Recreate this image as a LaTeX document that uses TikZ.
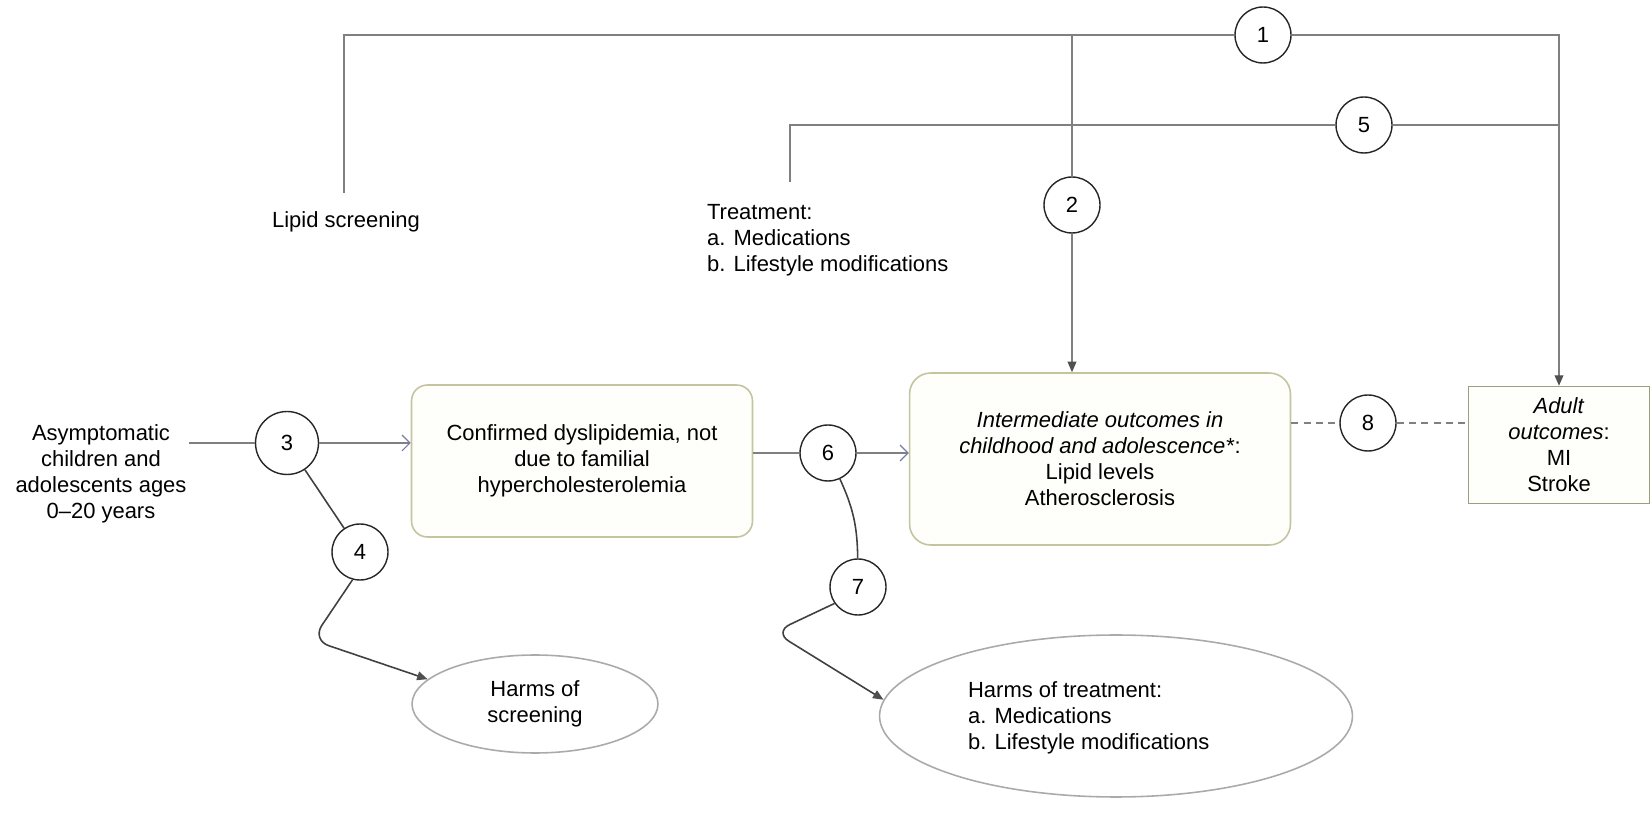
\documentclass[tikz,border=0pt]{standalone}
\usetikzlibrary{arrows.meta, positioning, shapes.geometric}
\usepackage{xcolor}
\usepackage{fontspec}
\setmainfont{Liberation Sans}
\definecolor{linegray}{RGB}{128,128,128}
\definecolor{boxedge}{RGB}{196,196,160}
\definecolor{boxfill}{RGB}{254,254,251}
\definecolor{elledge}{RGB}{170,170,170}
\definecolor{openblue}{RGB}{120,124,165}
\definecolor{tipgray}{RGB}{80,80,80}

\begin{document}
\begin{tikzpicture}[x=0.02cm, y=-0.02cm, font=\fontsize{12.5}{14.8}\selectfont]
    \tikzstyle{num}=[circle, draw=black!85, line width=0.8pt, minimum size=1.12cm, inner sep=0pt, fill=white]
    \tikzstyle{txt}=[inner sep=1pt]
    \tikzstyle{box}=[rectangle, rounded corners=9pt, draw=boxedge, fill=boxfill, line width=0.9pt, align=center, minimum width=6.82cm, minimum height=3.04cm]
    \tikzstyle{adultbox}=[rectangle, draw=boxedge!80!black, fill=boxfill, line width=0.8pt, align=center, minimum width=3.62cm, minimum height=2.34cm]
    \tikzstyle{harmell}=[ellipse, draw=elledge, fill=white, line width=0.9pt, align=center, minimum width=4.92cm, minimum height=1.96cm, inner sep=0pt]
    \tikzstyle{link}=[draw=linegray, line width=0.8pt]
    \tikzstyle{down}=[link, -{Triangle[length=6pt, width=5pt, color=tipgray]}]
    \tikzstyle{open}=[draw=linegray, line width=0.7pt, -{Straight Barb[length=4.5pt, width=9pt, color=openblue]}]
    \tikzstyle{harm}=[draw=black!75, line width=0.9pt, rounded corners=10pt, -{Triangle[length=6pt, width=5pt, color=tipgray]}]

    \useasboundingbox (0,0) rectangle (1650,830);

    % Draw the text nodes
    \node[txt] (lipid) at (346,222) {Lipid screening};
    \node[txt, anchor=west, align=left] (treat) at (705,240) {Treatment:\\a. Medications\\b. Lifestyle modifications};
    \node[txt, align=center] (asym) at (101,474) {Asymptomatic\\children and\\adolescents ages\\0--20 years};

    % Draw the boxes and ellipses
    \node[box] (confirmed) at (582,461) {Confirmed dyslipidemia, not\\due to familial\\hypercholesterolemia};
    \node[box, rounded corners=12pt, minimum width=7.62cm, minimum height=3.44cm] (inter) at (1100,459)
        {\textit{Intermediate outcomes in}\\\textit{childhood and adolescence*}:\\Lipid levels\\Atherosclerosis};
    \node[adultbox] (adult) at (1559,445) {\textit{Adult}\\\textit{outcomes}:\\MI\\Stroke};
    \node[harmell] (screen) at (535,704) {Harms of\\screening};
    \node[harmell, minimum width=9.46cm, minimum height=3.24cm] (harmtreat) at (1116,716) {};
    \node[txt, anchor=west, align=left] (harmtreat-text) at (966,718) {Harms of treatment:\\a. Medications\\b. Lifestyle modifications};

    % Draw the numbered circles
    \node[num] (c1) at (1263,35) {1};
    \node[num] (c2) at (1072,205) {2};
    \node[num, minimum size=1.26cm] (c3) at (287,443) {3};
    \node[num] (c4) at (360,552) {4};
    \node[num] (c5) at (1364,125) {5};
    \node[num] (c6) at (828,453) {6};
    \node[num] (c7) at (858,587) {7};
    \node[num] (c8) at (1368,423) {8};

    \coordinate (lip-top) at (344,193);
    \coordinate (treat-top) at (790,182);
    \coordinate (bend4) at (312,640);
    \coordinate (bend7) at (774,632);

    % Top connectors
    \draw[link] (lip-top) |- (c1);
    \draw[down] (c1) -| (adult.north);
    \draw[link] (treat-top) |- (c5);
    \draw[link] (c5) -- (c5 -| adult.north);
    \draw[link] (c2 |- c1) -- (c2);
    \draw[down] (c2) -- (c2 |- inter.north);

    % Main row
    \draw[link] (asym.east |- c3) -- (c3);
    \draw[open] (c3) -- (c3 -| confirmed.west);
    \draw[link] (confirmed.east |- c6) -- (c6);
    \draw[open] (c6) -- (c6 -| inter.west);
    \draw[link, dashed, dash pattern=on 4pt off 3pt] (inter.east |- c8) -- (c8);
    \draw[link, dashed, dash pattern=on 4pt off 3pt] (c8) -- (c8 -| adult.west);

    % Harms
    \draw[draw=black!75, line width=0.9pt] (c3) -- (c4);
    \draw[harm] (c4.255) -- (bend4) -- (screen.167);
    \draw[draw=black!75, line width=0.9pt] (c6) to[bend left=12] (c7);
    \draw[harm] (c7.215) -- (bend7) -- (harmtreat.176);
\end{tikzpicture}
\end{document}
